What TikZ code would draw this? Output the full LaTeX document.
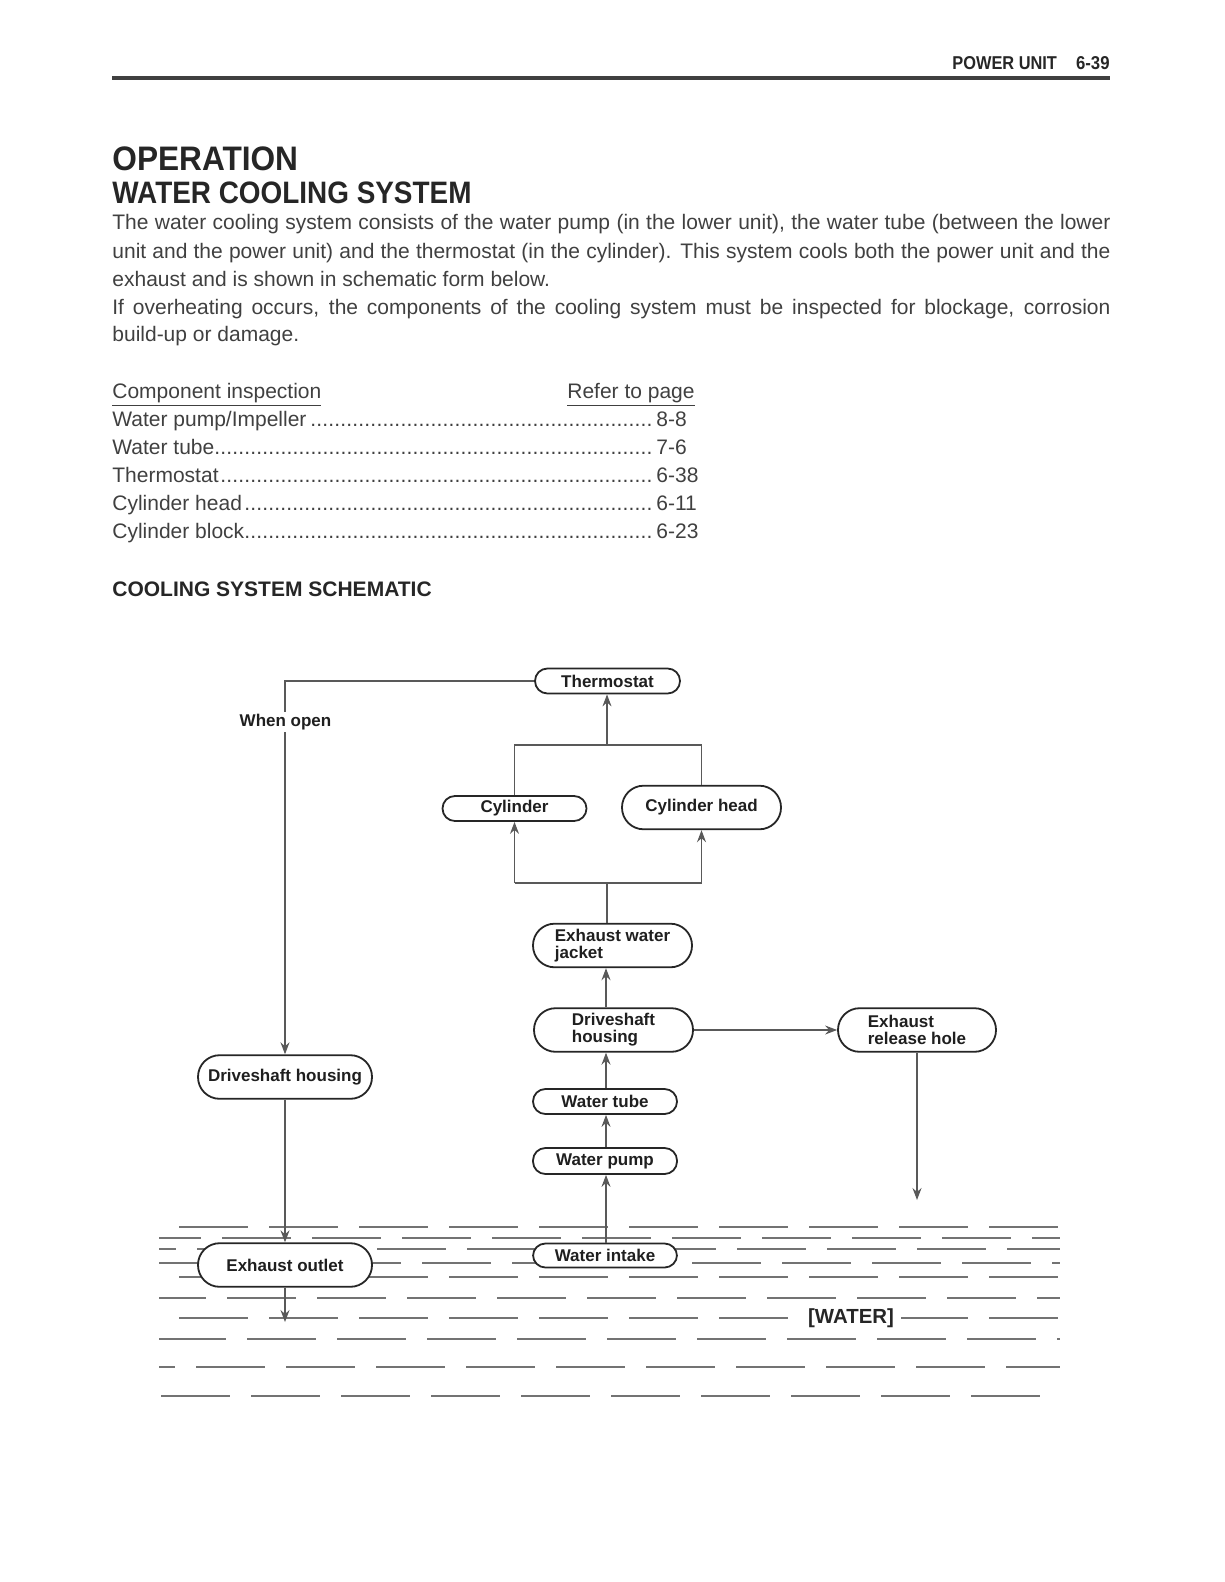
\documentclass[tikz,border=0pt]{standalone}
\usepackage{fontspec}
\setmainfont{Liberation Sans}
\usepackage{graphicx}
\usetikzlibrary{arrows.meta}
\newcommand\bxfont{\fontsize{8.5}{8.6}\selectfont\bfseries}
\newcommand\bodyfont{\fontsize{10.5}{14}\selectfont}
\newcommand\jline[1]{\makebox[499pt][s]{#1}}
\newcommand\mydots{\leaders\hbox to 3pt{\hss.\hss}\hfill}
\newcommand\tabrow[1]{\hbox to 270.5pt{#1\mydots}}
\begin{document}
\begin{tikzpicture}[x=0.5pt,y=-0.5pt,
  txt/.style={inner sep=0pt, anchor=base west, text=black!75, font=\bodyfont},
  ttl/.style={inner sep=0pt, anchor=base west, text=black!85},
  pill/.style={draw=black!85, line width=0.9pt, fill=white, rounded corners=6.2pt,
    minimum width=72pt, minimum height=12.5pt, inner sep=0pt, font=\bxfont, text=black!88},
  bigpill/.style={pill, rounded corners=10.8pt, minimum height=21.8pt, minimum width=79.5pt, align=left},
  conn/.style={draw=black!65, line width=0.55pt},
  arr/.style={conn, -{Stealth[length=6pt,width=4.5pt,inset=2pt]}},
  wave/.style={draw=black!55, line width=0.6pt, dash pattern=on 34.5pt off 10.5pt},
  lbl/.style={font=\bxfont, text=black!88, inner sep=1pt}]
\useasboundingbox (0,0) rectangle (1224,1582);

% header
\node[ttl, font=\fontsize{9.3}{9.3}\selectfont\bfseries] (hpu) at (952,70) {\scalebox{0.88}[1]{POWER UNIT}};
\node[ttl, anchor=base east, font=\fontsize{9.3}{9.3}\selectfont\bfseries] (hpg) at (1110,70) {\scalebox{0.9}[1]{6-39}};
\draw[line width=1.6pt, black!75] (112,78) -- (1110,78);

% titles
\node[ttl, font=\fontsize{17}{17}\selectfont\bfseries] (op) at (112,171) {\scalebox{0.93}[1]{OPERATION}};
\node[ttl, font=\fontsize{15.5}{15.5}\selectfont\bfseries] (wcs) at (112,204) {\scalebox{0.9}[1]{WATER COOLING SYSTEM}};

% body
\node[txt] (b1) at (112,230) {\jline{The water cooling system consists of the water pump (in the lower unit), the water tube (between the lower}};
\node[txt] (b2) at (112,258.2) {\jline{unit and the power unit) and the thermostat (in the cylinder). This system cools both the power unit and the}};
\node[txt] (b3) at (112,286.4) {exhaust and is shown in schematic form below.};
\node[txt] (b4) at (112,314.6) {\jline{If overheating occurs, the components of the cooling system must be inspected for blockage, corrosion}};
\node[txt] (b5) at (112,342) {build-up or damage.};

% table
\node[txt] (th1) at (112,398.5) {\underline{Component inspection}};
\node[txt, anchor=base east] (th2) at (695,398.5) {\underline{Refer to page}};
\node[txt] (r1) at (112,426.8) {\tabrow{Water pump/Impeller}};
\node[txt] (p1) at (656,426.8) {8-8};
\node[txt] (r2) at (112,454.5) {\tabrow{Water tube}};
\node[txt] (p2) at (656,454.5) {7-6};
\node[txt] (r3) at (112,482.3) {\tabrow{Thermostat}};
\node[txt] (p3) at (656,482.3) {6-38};
\node[txt] (r4) at (112,510.5) {\tabrow{Cylinder head}};
\node[txt] (p4) at (656,510.5) {6-11};
\node[txt] (r5) at (112,538.8) {\tabrow{Cylinder block}};
\node[txt] (p5) at (656,538.8) {6-23};

\node[ttl, font=\fontsize{10.5}{10.5}\selectfont\bfseries] (css) at (112,596.5) {COOLING SYSTEM SCHEMATIC};

% water
\foreach \yy/\ph in {1227/35,1238/13.5,1249/26,1263/3.5,1277/35,1298/11,1318/35,1339/1,1367/26.5,1396/44}
  \draw[wave, dash phase=\ph pt] (159,\yy) -- (1060,\yy);
\node[font=\fontsize{10.2}{10.2}\selectfont\bfseries, text=black!85, fill=white, inner xsep=3.5pt, inner ysep=1pt] (water) at (851,1318) {[WATER]};

% nodes
\node[pill, minimum width=72.5pt] (thermo) at (607.5,681) {Thermostat};
\node[pill] (cyl) at (514.5,808.5) {Cylinder};
\node[bigpill] (cylh) at (701.5,807.5) {Cylinder head};
\node[bigpill] (ewj) at (612.5,945.5) {Exhaust water\\jacket};
\node[bigpill] (dhc) at (613.5,1030) {Driveshaft\\housing};
\node[bigpill, minimum width=79pt] (erh) at (917,1030) {Exhaust\\release hole};
\node[pill] (wt) at (605,1101.5) {Water tube};
\node[pill, minimum height=13pt] (wp) at (605,1161) {Water pump};
\node[pill, minimum height=12pt] (wi) at (605,1255.5) {Water intake};
\node[bigpill, minimum width=87pt] (dhl) at (285,1077) {Driveshaft housing};
\node[bigpill, minimum width=87pt] (eo) at (285,1265) {Exhaust outlet};

\coordinate (col) at (606,0);
\coordinate (tb) at (607,745);
\coordinate (bb) at (607,883);
\coordinate (erhend) at (917,1200);
\coordinate (eoend) at (285,1322);

% connectors
\draw[arr] (thermo.west) -| (dhl.north);
\node[lbl, fill=white] (whenopen) at (285.5,722) {When open};
\draw[conn] (cyl.north) -- (cyl.north |- tb) -- (cylh.north |- tb) -- (cylh.north);
\draw[arr] (tb) -- (thermo.south -| tb);
\draw[conn] (bb -| cyl.south) -- (bb -| cylh.south);
\draw[arr] (bb -| cyl.south) -- (cyl.south);
\draw[arr] (bb -| cylh.south) -- (cylh.south);
\draw[conn] (bb) -- (bb |- ewj.north);
\draw[arr] (dhc.north -| col) -- (ewj.south -| col);
\draw[arr] (wt.north -| col) -- (dhc.south -| col);
\draw[arr] (wp.north -| col) -- (wt.south -| col);
\draw[arr] (wi.north -| col) -- (wp.south -| col);
\draw[arr] (dhc.east) -- (erh.west |- dhc.east);
\draw[arr] (erh.south) -- (erhend);
\draw[arr] (dhl.south) -- (eo.north);
\draw[arr] (eo.south) -- (eoend);
\end{tikzpicture}
\end{document}
